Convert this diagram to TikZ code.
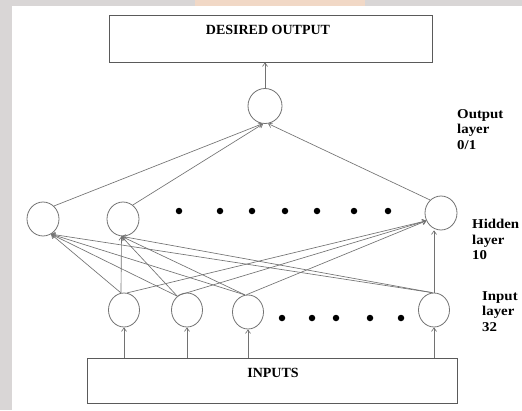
\documentclass[tikz,border=0pt]{standalone}
\usepackage{fontspec}
\setmainfont{Liberation Serif}
\newfontfamily\lblfont[FakeStretch=1.1]{Liberation Serif}
\usetikzlibrary{shapes.geometric,arrows.meta}
\definecolor{linegray}{HTML}{727272}
\definecolor{boxgray}{HTML}{5A5A5A}
\definecolor{bggray}{HTML}{D9D6D6}
\definecolor{peach}{HTML}{F1D8C6}
\begin{document}
\begin{tikzpicture}[x=1pt,y=-1pt,
  neuron/.style={draw=linegray, line width=0.8pt, ellipse, minimum width=32pt, minimum height=34pt, inner sep=0pt},
  conn/.style={draw=linegray, line width=0.65pt, -{Straight Barb[length=3.5pt,width=5pt]}},
  dotnode/.style={circle, fill=black, draw=none, inner sep=0pt, minimum size=6.5pt},
  boxnode/.style={draw=boxgray, line width=0.8pt, inner sep=0pt, fill=white},
  boxtext/.style={font=\bfseries\fontsize{14}{15}\selectfont, inner sep=0pt},
  lbl/.style={font=\lblfont\bfseries\fontsize{13.5}{15.5}\selectfont, align=left, anchor=north west, inner sep=0pt},
]
\useasboundingbox (0,0) rectangle (522,410);
\fill[bggray] (0,0) rectangle (522,410);
\fill[peach] (195,0) rectangle (365,6);
\fill[white] (12,6) rectangle (522,410);

% boxes
\node[boxnode, minimum width=323pt, minimum height=47pt] (desired) at (270.5,38.5) {};
\node[boxtext] (desiredtxt) at (268,30) {DESIRED OUTPUT};
\node[boxnode, minimum width=370pt, minimum height=45pt] (inputs) at (272,380.5) {};
\node[boxtext] (inputstxt) at (273,373) {INPUTS};

% neurons
\node[neuron, minimum width=34pt, minimum height=35pt] (out) at (265,106) {};
\node[neuron] (h1) at (43,219) {};
\node[neuron] (h2) at (123,219) {};
\node[neuron] (h3) at (441,213) {};
\node[neuron, minimum width=31pt] (i1) at (124,310) {};
\node[neuron, minimum width=31pt] (i2) at (187,310) {};
\node[neuron, minimum width=31pt] (i3) at (248,312) {};
\node[neuron, minimum width=31pt] (i4) at (434,310) {};

% dots
\foreach \x [count=\k] in {179,220,252,285,317,354,388}
  \node[dotnode] (hd\k) at (\x,211) {};
\foreach \x [count=\k] in {282,312,336,370,401}
  \node[dotnode] (id\k) at (\x,318) {};

% labels
\node[lbl] (outlbl) at (457,109) {Output\\layer\\0/1};
\node[lbl] (hidlbl) at (472,219) {Hidden\\layer\\10};
\node[lbl] (inlbl) at (482,291) {Input\\layer\\32};

% output to desired
\draw[conn] (out.north) -- (out.north |- desired.south);

% inputs box to input neurons
\foreach \n in {i1,i2,i3,i4}
  \draw[conn] (\n.south |- inputs.north) -- (\n.south);

% input to hidden
\foreach \n/\a in {i1/100,i2/125,i3/100,i4/95}{
  \draw[conn] (\n.\a) -- (h1.-62);
  \draw[conn] (\n.\a) -- (h2.-95);
}
\foreach \n/\a in {i1/80,i2/120,i3/95}
  \draw[conn] (\n.\a) -- (h3.-152);
\draw[conn] (i4.north) -- (i4.north |- h3.south);

% hidden to output
\draw[conn] (h1.50) -- (out.-98);
\draw[conn] (h2.55) -- (out.-96);
\draw[conn] (h3.130) -- (out.-80);
\end{tikzpicture}
\end{document}
